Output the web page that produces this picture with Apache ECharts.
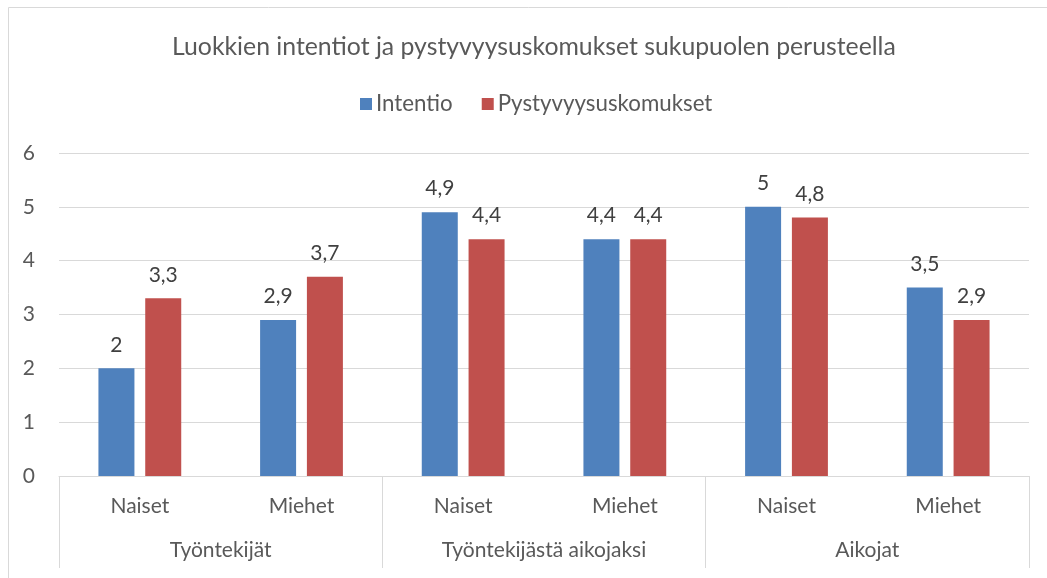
<!DOCTYPE html>
<html>
<head>
<meta charset="utf-8">
<script src="https://cdn.jsdelivr.net/npm/echarts@6/dist/echarts.min.js"></script>
<style>
html,body{margin:0;padding:0;background:#fff;}
#chart{width:1047px;height:578px;}
</style>
</head>
<body>
<div id="chart"></div>
<script>
const titleText = 'Luokkien intentiot ja pystyvyysuskomukset sukupuolen perusteella';
const subCategories = ['Naiset', 'Miehet', 'Naiset', 'Miehet', 'Naiset', 'Miehet'];
const groups = ['Työntekijät', 'Työntekijästä aikojaksi', 'Aikojat'];
const seriesNames = ['Intentio', 'Pystyvyysuskomukset'];
const intentio = [2, 2.9, 4.9, 4.4, 5, 3.5];
const pystyvyys = [3.3, 3.7, 4.4, 4.4, 4.8, 2.9];
const yTicks = [0, 1, 2, 3, 4, 5, 6];

const FONT = 'Lato, "Open Sans", sans-serif';
const TXT = '#595959';
const fmt = p => String(p.value).replace('.', ',');

const chart = echarts.init(document.getElementById('chart'), null, {renderer: 'canvas'});
chart.setOption({
  animation: false,
  textStyle: {fontFamily: FONT},
  graphic: [{
    type: 'rect', left: 6, top: 5, z: -10,
    shape: {width: 1100, height: 700},
    style: {fill: 'none', stroke: '#d9d9d9', lineWidth: 1}
  }],
  title: {
    text: titleText,
    left: 167, top: 30,
    textStyle: {fontFamily: FONT, fontSize: 24.8, fontWeight: 'normal', color: TXT}
  },
  legend: {
    data: seriesNames,
    left: 355, top: 88,
    itemWidth: 12, itemHeight: 12, itemGap: 29,
    icon: 'rect',
    textStyle: {fontFamily: FONT, fontSize: 22.3, color: TXT, padding: [0, 0, 0, -1]}
  },
  grid: {left: 59, right: 18, top: 153, bottom: 102, containLabel: false},
  xAxis: [{
    type: 'category',
    data: subCategories,
    position: 'bottom',
    axisLine: {show: true, lineStyle: {color: '#d9d9d9', width: 1}},
    axisTick: {show: false},
    axisLabel: {margin: 20, fontFamily: FONT, fontSize: 21, color: TXT, interval: 0}
  }, {
    type: 'category',
    data: groups,
    position: 'bottom',
    axisLine: {show: false},
    axisTick: {show: true, length: 92, lineStyle: {color: '#d9d9d9', width: 1}},
    axisLabel: {margin: 64, fontFamily: FONT, fontSize: 21, color: TXT, interval: 0},
    splitLine: {show: false}
  }],
  yAxis: {
    type: 'value', min: 0, max: 6, interval: 1,
    axisLine: {show: false}, axisTick: {show: false},
    axisLabel: {margin: 24, fontFamily: FONT, fontSize: 21, color: TXT,
      formatter: v => yTicks.includes(v) ? String(v) : ''},
    splitLine: {lineStyle: {color: '#d9d9d9', width: 1}}
  },
  series: [{
    name: seriesNames[0], type: 'bar', data: intentio,
    barWidth: 36, barGap: '30%',
    itemStyle: {color: '#4F81BD'},
    label: {show: true, position: 'top', distance: 13, formatter: fmt,
      fontFamily: FONT, fontSize: 21, color: '#404040'}
  }, {
    name: seriesNames[1], type: 'bar', data: pystyvyys,
    barWidth: 36, barGap: '30%',
    itemStyle: {color: '#C0504D'},
    label: {show: true, position: 'top', distance: 13, formatter: fmt,
      fontFamily: FONT, fontSize: 21, color: '#404040'}
  }]
});
</script>
</body>
</html>
